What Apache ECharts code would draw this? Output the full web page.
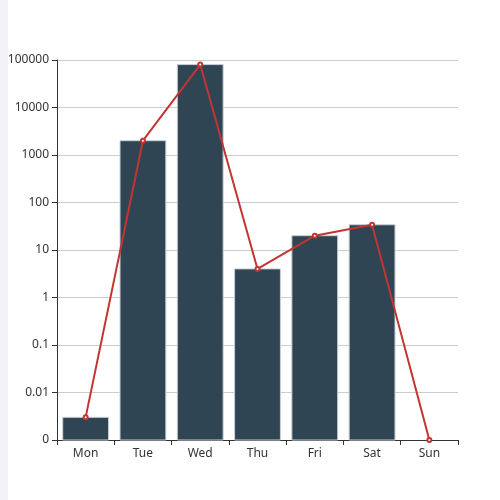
<!DOCTYPE html>
<html>
<head>
<meta charset="utf-8">
<script src="https://cdn.jsdelivr.net/npm/echarts@6/dist/echarts.min.js"></script>
<style>
html,body{margin:0;padding:0;background:#fff;}
#strip{position:absolute;left:0;top:0;width:8px;height:500px;background:#f2f3f8;}
#main{position:absolute;left:0;top:0;width:500px;height:500px;}
</style>
</head>
<body>
<div id="strip"></div>
<div id="main"></div>
<script>
const categories = ['Mon', 'Tue', 'Wed', 'Thu', 'Fri', 'Sat', 'Sun'];
const barValues = [0.003, 2000, 80000, 4, 20, 34, 0.001];
const lineValues = [0.003, 2000, 80000, 4, 20, 34, 0.001];
const yTickLabels = ['0', '0.01', '0.1', '1', '10', '100', '1000', '10000', '100000'];

const chart = echarts.init(document.getElementById('main'), null, {renderer: 'canvas'});
const font = 'Microsoft YaHei, "Noto Sans", sans-serif';
chart.setOption({
  animation: false,
  textStyle: {fontFamily: font},
  grid: {left: 57, right: 42, top: 60, bottom: 60, containLabel: false},
  xAxis: {
    type: 'category',
    data: categories,
    axisLine: {show: true, lineStyle: {color: '#333', width: 1}},
    axisTick: {show: true, alignWithLabel: false, length: 5, lineStyle: {color: '#333'}},
    axisLabel: {color: '#333', fontSize: 12, margin: 8, fontFamily: font},
    splitLine: {show: false}
  },
  yAxis: {
    type: 'log',
    logBase: 10,
    min: 0.001,
    max: 100000,
    axisLine: {show: true, lineStyle: {color: '#333', width: 1}},
    axisTick: {show: true, length: 5, lineStyle: {color: '#333'}},
    axisLabel: {
      color: '#333', fontSize: 12, margin: 8, fontFamily: font,
      formatter: function (v) {
        const i = Math.round(Math.log10(v)) + 3;
        return yTickLabels[i] !== undefined ? yTickLabels[i] : String(v);
      }
    },
    splitLine: {show: true, lineStyle: {color: '#ccc', width: 1}}
  },
  series: [
    {
      type: 'custom',
      data: barValues.map(function (v, i) { return [i, v]; }),
      encode: {x: 0, y: 1},
      renderItem: function (params, api) {
        const top = api.coord([api.value(0), api.value(1)]);
        const bw = api.size([1, 0])[0] * 0.8;
        const bottom = params.coordSys.y + params.coordSys.height;
        const h = bottom - top[1];
        if (!(h > 0.5)) { return null; }
        return {
          type: 'rect',
          shape: {x: top[0] - bw / 2, y: top[1], width: bw, height: h},
          style: {fill: '#2f4554', stroke: '#c8cfd6', lineWidth: 1}
        };
      },
      z: 2
    },
    {
      type: 'line',
      data: lineValues,
      symbol: 'emptyCircle',
      symbolSize: 4,
      lineStyle: {color: '#c23531', width: 2},
      itemStyle: {color: '#c23531', borderColor: '#c23531', borderWidth: 1},
      z: 3
    }
  ]
});
</script>
</body>
</html>
